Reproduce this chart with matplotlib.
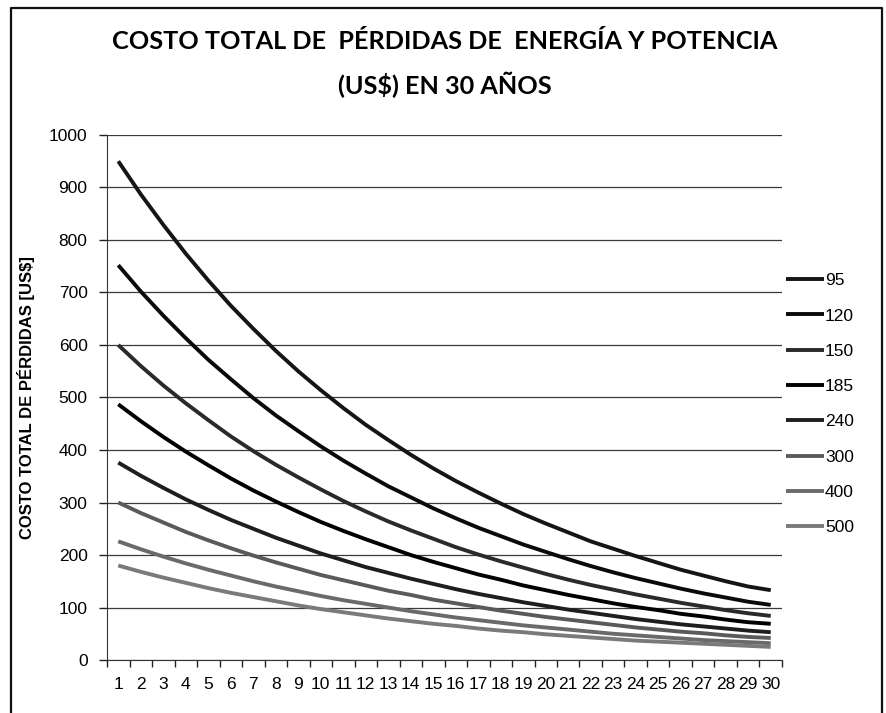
import numpy as np
import matplotlib
matplotlib.use("Agg")
import matplotlib.pyplot as plt
from matplotlib.lines import Line2D

plt.rcParams['font.family'] = ['Liberation Sans', 'DejaVu Sans']

# years 1..30
years = list(range(1, 31))

# cost of losses (US$), one list per conductor section
s95 = [950, 887, 829, 774, 723, 675, 631, 589, 550, 514, 480, 448, 419, 391, 365,
       341, 319, 298, 278, 260, 243, 226, 212, 198, 185, 172, 161, 150, 140, 133]
s120 = [752, 702, 656, 613, 572, 535, 499, 466, 436, 407, 380, 355, 331, 310, 289,
        270, 252, 236, 220, 206, 192, 179, 167, 156, 146, 136, 127, 119, 111, 105]
s150 = [600, 560, 523, 489, 457, 426, 398, 372, 348, 325, 303, 283, 264, 247, 231,
        215, 201, 188, 176, 164, 153, 143, 134, 125, 117, 109, 102, 95, 89, 84]
s185 = [487, 455, 425, 397, 371, 346, 323, 302, 282, 263, 246, 230, 215, 200, 187,
        175, 163, 153, 142, 133, 124, 116, 108, 101, 95, 88, 83, 77, 72, 69]
s240 = [376, 351, 328, 306, 286, 267, 250, 233, 218, 203, 190, 177, 166, 155, 145,
        135, 126, 118, 110, 103, 96, 90, 84, 78, 73, 68, 64, 60, 56, 53]
s300 = [300, 280, 262, 244, 228, 213, 199, 186, 174, 162, 152, 142, 132, 124, 115,
        108, 101, 94, 88, 82, 77, 72, 67, 62, 58, 54, 51, 47, 44, 42]
s400 = [226, 211, 197, 184, 172, 161, 150, 140, 131, 122, 114, 107, 100, 93, 87,
        81, 76, 71, 66, 62, 58, 54, 50, 47, 44, 41, 38, 36, 34, 32]
s500 = [180, 168, 157, 147, 137, 128, 120, 112, 104, 97, 91, 85, 79, 74, 69,
        65, 60, 56, 53, 49, 46, 43, 40, 37, 35, 33, 31, 29, 27, 25]

labels = ['95', '120', '150', '185', '240', '300', '400', '500']
series = [s95, s120, s150, s185, s240, s300, s400, s500]
colors = ['#151515', '#0a0a0a', '#2a2a2a', '#000000', '#1e1e1e', '#5a5a5a', '#6a6a6a', '#7a7a7a']

fig = plt.figure(figsize=(8.86, 7.13), dpi=100)
ax = fig.add_axes([0.1208, 0.0743, 0.7618, 0.7364])

for vals, lab, c in zip(series, labels, colors):
    ax.plot(years, vals, color=c, lw=2.8, label=lab, solid_capstyle='butt')

ax.set_xlim(0.5, 30.5)
ax.set_ylim(0, 1000)
ax.set_yticks(range(0, 1001, 100))
ax.set_xticks(years)
ax.set_xticks(np.arange(0.5, 31, 1), minor=True)
ax.tick_params(axis='x', which='major', length=0, labelsize=12.5, pad=12)
ax.tick_params(axis='x', which='minor', length=5, width=1, color='#222')
ax.tick_params(axis='y', length=6, width=1, color='#222', labelsize=12.5, pad=8)
ax.grid(axis='y', color='#3a3a3a', lw=0.9)
ax.set_axisbelow(True)
for sp in ['top', 'right']:
    ax.spines[sp].set_visible(False)
ax.spines['left'].set_color('#333')
ax.spines['bottom'].set_color('#333')

ax.set_ylabel('COSTO TOTAL DE PÉRDIDAS [US$]', fontsize=12, fontweight='bold', labelpad=10)

fig.text(0.502, 0.910, 'COSTO TOTAL DE  PÉRDIDAS DE  ENERGÍA Y POTENCIA\n(US$) EN 30 AÑOS',
         ha='center', va='center', fontsize=18.2, fontweight='bold', linespacing=1.85,
         family=['Lato', 'Liberation Sans', 'DejaVu Sans'])

ax.legend(loc='upper left', bbox_to_anchor=(1.006, 0.737), frameon=False,
          handlelength=2.2, handletextpad=0.05, labelspacing=1.16, fontsize=12.5,
          borderaxespad=0, borderpad=0)

# chart area border (bottom edge falls outside the picture)
fig.add_artist(Line2D([0.0124, 0.0124, 0.9955, 0.9955], [-0.01, 0.9888, 0.9888, -0.01],
                      transform=fig.transFigure, color='#111', lw=1.6))

fig.savefig('out.png', dpi=100)
